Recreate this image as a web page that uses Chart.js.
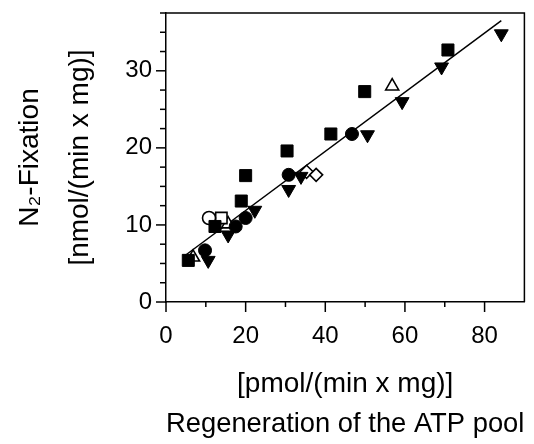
<!DOCTYPE html>
<html><head><meta charset="utf-8">
<script src="https://cdn.jsdelivr.net/npm/chart.js@4/dist/chart.umd.min.js"></script>
<style>html,body{margin:0;padding:0;background:#fff}</style>
</head><body>
<canvas id="c" width="534" height="444"></canvas>
<script>
// ---- data ----
const xMin = 0, xMax = 90, xStep = 10;
const yMin = 0, yMax = 37.5, yStep = 2.5;
const xTickLabels = [0, 20, 40, 60, 80];
const yTickLabels = [0, 10, 20, 30];

const filledSquareX = [5.6, 12.3, 18.9, 20.0, 30.4, 41.4, 49.9, 70.8];
const filledSquareY = [5.4, 9.8, 13.1, 16.4, 19.6, 21.8, 27.3, 32.7];

const filledCircleX = [9.8, 17.5, 20.0, 30.8, 46.7];
const filledCircleY = [6.7, 9.8, 10.9, 16.5, 21.8];

const filledTriDownX = [10.6, 15.6, 22.3, 30.8, 33.9, 50.6, 59.3, 69.2, 84.2];
const filledTriDownY = [5.4, 8.7, 11.9, 14.6, 16.3, 21.7, 26.0, 30.5, 34.8];

const openCircleX = [10.8];
const openCircleY = [10.9];

const openSquareX = [13.9];
const openSquareY = [10.9];

const openTriUpX = [6.8, 15.6, 56.8];
const openTriUpY = [5.8, 10.1, 28.0];

const openDiamondX = [35.3, 37.7];
const openDiamondY = [16.9, 16.5];

const fitX = [4.7, 84.2];
const fitY = [6.0, 36.5];

const xTitle = ['[pmol/(min x mg)]', 'Regeneration of the ATP pool'];
const yTitle = ['N\u2082-Fixation', '[nmol/(min x mg)]'];

// ---- build ----
const pts = (xs, ys) => xs.map((x, i) => ({x, y: ys[i]}));
const INK = '#000000';
const FONT = "'Liberation Sans', Arial, Helvetica, sans-serif";

const frame = {
  id: 'frame',
  beforeDatasetsDraw(chart) {
    const {ctx, chartArea: a, scales: {x, y}} = chart;
    ctx.save();
    ctx.strokeStyle = INK;
    ctx.lineWidth = 1.5;
    ctx.beginPath();
    ctx.moveTo(a.left, a.top); ctx.lineTo(a.right, a.top); ctx.lineTo(a.right, a.bottom);
    ctx.stroke();
    x.ticks.forEach(t => {
      if (t.value >= xMax) return;
      const px = x.getPixelForValue(t.value);
      const len = xTickLabels.includes(t.value) ? 10 : 5;
      ctx.beginPath(); ctx.moveTo(px, a.bottom); ctx.lineTo(px, a.bottom + len); ctx.stroke();
    });
    y.ticks.forEach(t => {
      const py = y.getPixelForValue(t.value);
      const len = yTickLabels.includes(t.value) ? 10 : 6;
      ctx.beginPath(); ctx.moveTo(a.left, py); ctx.lineTo(a.left - len, py); ctx.stroke();
    });
    ctx.restore();
  }
};

const noPad = s => { s.paddingTop = 0; s.paddingBottom = 0; s.paddingLeft = 0; s.paddingRight = 0; };
const filled = {backgroundColor: INK, borderColor: INK, borderWidth: 1};
const open = {backgroundColor: '#ffffff', borderColor: INK, borderWidth: 1.6};

new Chart(document.getElementById('c'), {
  type: 'scatter',
  data: {
    datasets: [
      {type: 'line', data: pts(fitX, fitY), borderColor: INK, borderWidth: 1.5, pointRadius: 0, fill: false, order: 10},
      {data: pts(filledSquareX, filledSquareY), pointStyle: 'rect', pointRadius: 8.5, ...filled},
      {data: pts(filledCircleX, filledCircleY), pointStyle: 'circle', pointRadius: 6.5, ...filled},
      {data: pts(filledTriDownX, filledTriDownY), pointStyle: 'triangle', rotation: 180, pointRadius: 8, ...filled},
      {data: pts(openCircleX, openCircleY), pointStyle: 'circle', pointRadius: 6.5, ...open},
      {data: pts(openSquareX, openSquareY), pointStyle: 'rect', pointRadius: 8, ...open},
      {data: pts(openTriUpX, openTriUpY), pointStyle: 'triangle', pointRadius: 7.5, ...open},
      {data: pts(openDiamondX, openDiamondY), pointStyle: 'rectRot', pointRadius: 6.5, ...open}
    ]
  },
  options: {
    responsive: false,
    animation: false,
    layout: {padding: {top: 13, right: 8, left: 0, bottom: 0}},
    plugins: {legend: {display: false}, tooltip: {enabled: false}},
    scales: {
      x: {
        type: 'linear', min: xMin, max: xMax,
        afterFit: s => { s.height = 142; noPad(s); },
        grid: {display: false, drawTicks: false},
        border: {display: true, color: INK, width: 1.5},
        ticks: {stepSize: xStep, autoSkip: false, maxRotation: 0, padding: 20, color: INK,
          font: {family: FONT, size: 24},
          callback: v => xTickLabels.includes(v) ? String(v) : ''},
        title: {display: true, text: xTitle, color: INK, padding: {top: 0, bottom: 0},
          font: {family: FONT, size: 28, lineHeight: 1.43}}
      },
      y: {
        type: 'linear', min: yMin, max: yMax,
        afterFit: s => { s.width = 166; noPad(s); },
        grid: {display: false, drawTicks: false},
        border: {display: true, color: INK, width: 1.5},
        ticks: {stepSize: yStep, autoSkip: false, padding: 14, color: INK,
          font: {family: FONT, size: 24},
          callback: v => yTickLabels.includes(v) ? String(v) : ''},
        title: {display: true, text: yTitle, color: INK, padding: {top: 5, bottom: 0},
          font: {family: FONT, size: 28, lineHeight: 1.786}}
      }
    }
  },
  plugins: [frame]
});
</script>
</body></html>
